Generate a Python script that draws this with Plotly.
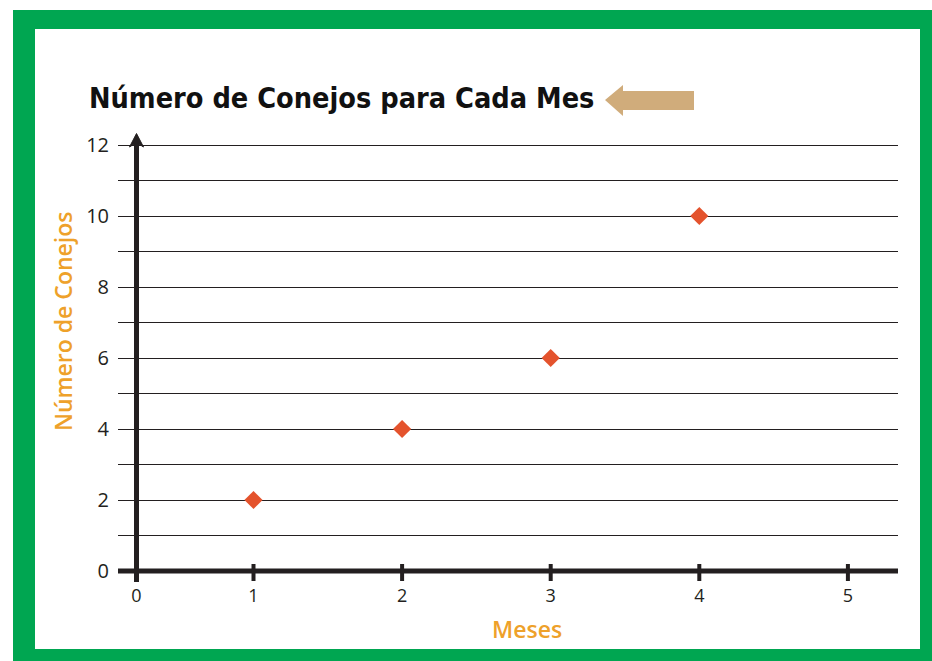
import plotly.graph_objects as go

# Data: rabbits counted at the end of each month
meses = [1, 2, 3, 4]
conejos = [2, 4, 6, 10]

x_ticks = [1, 2, 3, 4, 5]
y_labels = [0, 2, 4, 6, 8, 10, 12]

title_text = "Número de Conejos para Cada Mes"
y_title = "Número de Conejos"
x_title = "Meses"

# Colours
GREEN = "#00A651"
INK = "#231F20"
ORANGE = "#EEA12A"
MARKER = "#E4532D"
TAN = "#D0AC7B"

# Figure geometry (pixels)
W, H = 932, 661
PL, PR, PT, PB = 118, 898, 130, 582          # plot area edges
X_PX1, X_PX_STEP = 253.5, 148.6               # pixel of month 1, pixels per month
Y_PX0, Y_PX_STEP = 571.0, 35.5                # pixel of y=0, pixels per unit

def px_to_x(px):
    return 1 + (px - X_PX1) / X_PX_STEP

def py_to_y(py):
    return (Y_PX0 - py) / Y_PX_STEP

def pxp(px):  # pixel -> paper x
    return (px - PL) / (PR - PL)

def pyp(py):  # pixel -> paper y
    return (PB - py) / (PB - PT)

X_ORIGIN = px_to_x(136.5)    # where the vertical axis stands (labelled 0)
x_range = [px_to_x(PL), px_to_x(PR)]
y_range = [py_to_y(PB), py_to_y(PT)]

fig = go.Figure()
fig.add_trace(go.Scatter(
    x=meses, y=conejos, mode="markers",
    marker=dict(symbol="diamond", size=14, color=MARKER, line=dict(width=0)),
    cliponaxis=False, hoverinfo="x+y", showlegend=False,
))

shapes = []
# green frame with white panel
shapes.append(dict(type="rect", xref="paper", yref="paper", layer="below",
                   x0=pxp(13), x1=pxp(940), y0=pyp(10), y1=pyp(670),
                   fillcolor=GREEN, line=dict(width=0)))
shapes.append(dict(type="rect", xref="paper", yref="paper", layer="below",
                   x0=pxp(35), x1=pxp(920), y0=pyp(29), y1=pyp(649),
                   fillcolor="white", line=dict(width=0)))

# horizontal axis
shapes.append(dict(type="line", xref="x", yref="y",
                   x0=px_to_x(117), x1=px_to_x(898), y0=0, y1=0,
                   line=dict(color=INK, width=5)))
# tick marks crossing the horizontal axis
for t in x_ticks:
    shapes.append(dict(type="line", xref="x", yref="y",
                       x0=t, x1=t, y0=py_to_y(564), y1=py_to_y(581),
                       line=dict(color=INK, width=4)))
# vertical axis with arrowhead
shapes.append(dict(type="line", xref="x", yref="y",
                   x0=X_ORIGIN, x1=X_ORIGIN, y0=py_to_y(583), y1=py_to_y(141),
                   line=dict(color=INK, width=5)))
dx = 7 / X_PX_STEP
tip, wing, notch = py_to_y(133.5), py_to_y(147), py_to_y(142.5)
shapes.append(dict(type="path", xref="x", yref="y",
                   path=(f"M {X_ORIGIN},{tip} L {X_ORIGIN + dx},{wing} "
                         f"L {X_ORIGIN},{notch} L {X_ORIGIN - dx},{wing} Z"),
                   fillcolor=INK, line=dict(color=INK, width=1)))

# tan arrow pointing at the title
ax = [605, 623, 623, 694, 694, 623, 623]
ay = [100, 85, 91, 91, 110, 110, 116]
path = "M " + " L ".join(f"{pxp(a)},{pyp(b)}" for a, b in zip(ax, ay)) + " Z"
shapes.append(dict(type="path", xref="paper", yref="paper", path=path,
                   fillcolor=TAN, line=dict(width=0)))

annotations = [
    dict(text=f"<b>{title_text}</b>", xref="paper", yref="paper",
         x=pxp(86.5), y=pyp(98), xanchor="left", yanchor="middle", showarrow=False,
         font=dict(family="DejaVu Sans Condensed", size=28.6, color="#111111")),
    dict(text=y_title, xref="paper", yref="paper", textangle=-90,
         x=pxp(63), y=pyp(322), xanchor="center", yanchor="middle", showarrow=False,
         font=dict(family="Open Sans", size=23, color=ORANGE, weight=600)),
    dict(text=x_title, xref="paper", yref="paper",
         x=pxp(527), y=pyp(629), xanchor="center", yanchor="middle", showarrow=False,
         font=dict(family="Open Sans", size=23, color=ORANGE, weight=600)),
]

fig.update_layout(
    width=W, height=H, autosize=False,
    margin=dict(l=PL, r=W - PR, t=PT, b=H - PB, pad=0),
    paper_bgcolor="white", plot_bgcolor="rgba(0,0,0,0)",
    shapes=shapes, annotations=annotations, showlegend=False,
    xaxis=dict(range=x_range, showgrid=False, zeroline=False, showline=False,
               tickmode="array", tickvals=[X_ORIGIN] + x_ticks,
               ticktext=["0"] + [str(t) for t in x_ticks],
               ticks="", ticklabelstandoff=1,
               tickfont=dict(family="Open Sans", size=18, color=INK)),
    yaxis=dict(range=y_range, showgrid=True, gridcolor=INK, gridwidth=1,
               zeroline=False, showline=False,
               tickmode="array", tickvals=y_labels,
               ticktext=[str(v) for v in y_labels],
               ticks="", ticklabelstandoff=8,
               minor=dict(tickmode="linear", tick0=0, dtick=1, showgrid=True,
                          gridcolor=INK, gridwidth=1, ticks=""),
               tickfont=dict(family="Open Sans", size=20, color=INK)),
)

fig.write_html("out.html")
